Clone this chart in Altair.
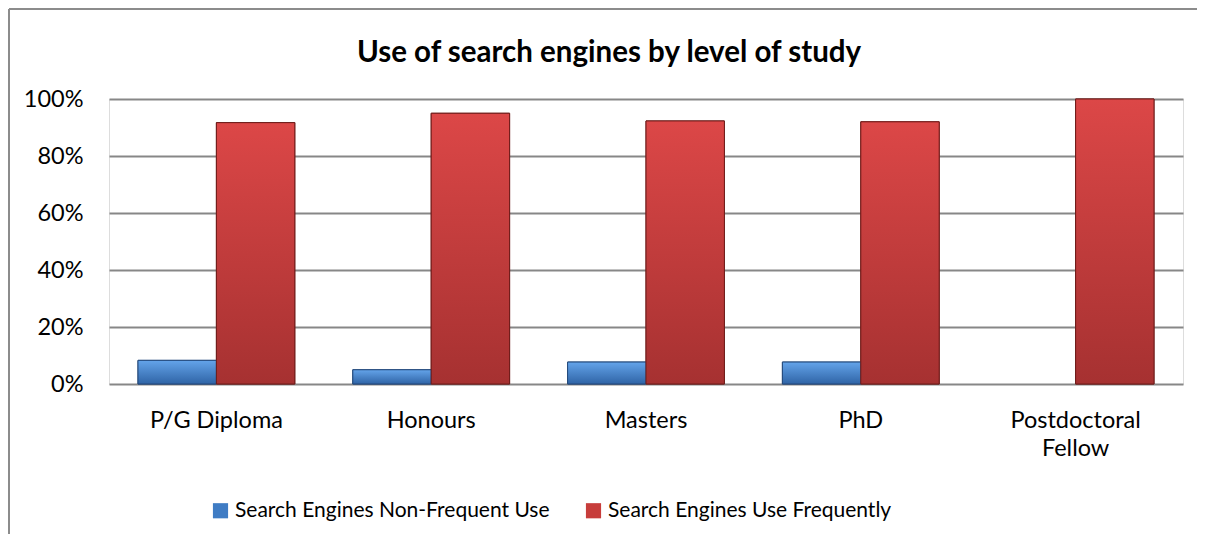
import altair as alt
import pandas as pd

categories = ["P/G Diploma", "Honours", "Masters", "PhD", "Postdoctoral Fellow"]
series = ["Search Engines Non-Frequent Use", "Search Engines Use Frequently"]
non_frequent = [8.3, 5.0, 7.7, 7.7, 0.0]
frequent = [91.7, 95.0, 92.3, 92.0, 100.0]
colors = ["#3F7CC4", "#C73D3B"]
strokes = ["#24497A", "#6E1C1A"]
grad_top = ["#64A4EA", "#DC4747"]
grad_bottom = ["#2F64A6", "#A63131"]
title_text = "Use of search engines by level of study"

rows = []
for c, a, b in zip(categories, non_frequent, frequent):
    rows.append({"level": c, "series": series[0], "value": a / 100})
    rows.append({"level": c, "series": series[1], "value": b / 100})
df = pd.DataFrame(rows)

FONT = "Lato"
AFS = 23.5
LFS = 21

x_enc = alt.X("level:N", sort=categories, title=None,
              scale=alt.Scale(paddingInner=0.27, paddingOuter=0.135),
              axis=alt.Axis(labelAngle=0, ticks=False, domain=False, labelPadding=24,
                            labelFontSize=AFS, labelColor="#000", labelFont=FONT,
                            labelLineHeight=28,
                            labelExpr="datum.label == 'Postdoctoral Fellow' ? ['Postdoctoral', 'Fellow'] : datum.label"))
xoff_enc = alt.XOffset("series:N", sort=series, scale=alt.Scale(domain=series, paddingInner=0, paddingOuter=0))
y_enc = alt.Y("value:Q", title=None,
              scale=alt.Scale(domain=[0, 1], nice=False),
              axis=alt.Axis(format="%", values=[0, 0.2, 0.4, 0.6, 0.8, 1.0], ticks=False, domain=False,
                            labelPadding=26, labelFontSize=AFS, labelColor="#000", labelFont=FONT,
                            grid=True, gridColor="#878787", gridWidth=2))

base = alt.Chart(df).transform_filter("datum.value > 0")

bars = base.mark_bar(strokeWidth=1).encode(
    x=x_enc, xOffset=xoff_enc, y=y_enc,
    color=alt.Color("series:N", sort=series,
                    scale=alt.Scale(domain=series, range=colors),
                    legend=alt.Legend(title=None, orient="none", direction="horizontal",
                                      legendX=101, legendY=401, symbolType="square",
                                      symbolSize=230, symbolStrokeWidth=0, labelFontSize=LFS,
                                      labelFont=FONT, labelColor="#000", columnPadding=33,
                                      labelOffset=4, labelLimit=0)),
    stroke=alt.Stroke("series:N", sort=series, scale=alt.Scale(domain=series, range=strokes), legend=None),
)

grad_layers = []
for i, s in enumerate(series):
    g = {"gradient": "linear", "x1": 0, "y1": 0, "x2": 0, "y2": 1,
         "stops": [{"offset": 0, "color": grad_top[i]}, {"offset": 1, "color": grad_bottom[i]}]}
    grad_layers.append(
        base.transform_filter(alt.datum.series == s).mark_bar(fill=g, stroke=strokes[i], strokeWidth=1).encode(
            x=alt.X("level:N", sort=categories), xOffset=alt.XOffset("series:N", sort=series), y="value:Q"
        )
    )

border = alt.Chart(df).mark_rule(color="#8C8C8C", strokeWidth=2).encode(
    x=alt.value(-100), y=alt.value(-90), y2=alt.value(450)
)
border_top = alt.Chart(df).mark_rule(color="#8C8C8C", strokeWidth=2).encode(
    x=alt.value(-100), x2=alt.value(1100), y=alt.value(-90)
)
title = alt.Chart(pd.DataFrame({"t": [title_text]})).mark_text(
    font=FONT, fontSize=29.5, fontWeight="bold", color="#000", align="center", baseline="middle"
).encode(text="t:N", x=alt.value(500), y=alt.value(-46))

chart = alt.layer(bars, *grad_layers, border, border_top, title).properties(
    width=1074, height=285,
    autosize=alt.AutoSizeParams(type="none"),
    padding={"left": 101, "top": 91, "right": 14, "bottom": 150},
).configure_view(stroke=None).configure(background="white")

chart.save("out.html", embed_options={"renderer": "svg", "actions": False})
